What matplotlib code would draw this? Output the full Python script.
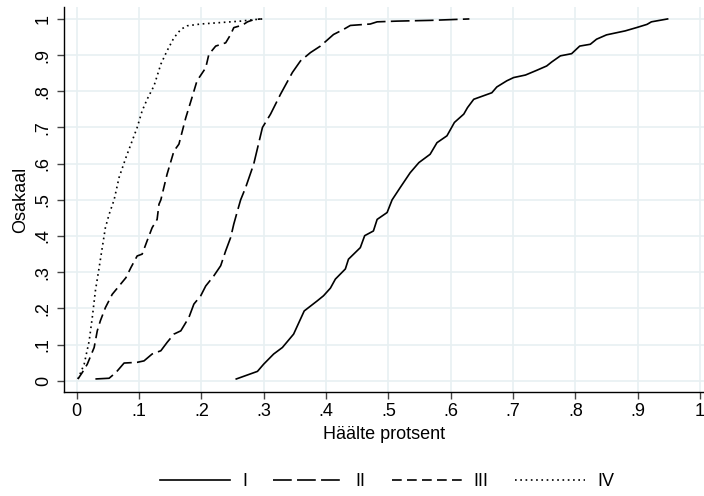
import numpy as np
import matplotlib
matplotlib.use("Agg")
import matplotlib.pyplot as plt

plt.rcParams['font.family'] = ['Liberation Sans', 'DejaVu Sans']
plt.rcParams['lines.scale_dashes'] = False

# data (vote share, cumulative share)
x_I = [0.256, 0.29, 0.30, 0.316, 0.33, 0.348, 0.365, 0.386, 0.396, 0.407, 0.415, 0.431,
       0.436, 0.455, 0.462, 0.476, 0.482, 0.498, 0.506, 0.519, 0.535, 0.549, 0.567, 0.578,
       0.594, 0.606, 0.621, 0.627, 0.637, 0.666, 0.674, 0.69, 0.701, 0.72, 0.738, 0.754,
       0.762, 0.776, 0.794, 0.807, 0.824, 0.834, 0.85, 0.88, 0.898, 0.915, 0.922, 0.948]
y_I = [0.005, 0.026, 0.046, 0.074, 0.092, 0.129, 0.193, 0.221, 0.235, 0.256, 0.281, 0.309,
       0.336, 0.368, 0.401, 0.414, 0.446, 0.465, 0.5, 0.534, 0.575, 0.603, 0.626, 0.658,
       0.677, 0.714, 0.737, 0.755, 0.778, 0.796, 0.812, 0.829, 0.838, 0.845, 0.858, 0.87,
       0.881, 0.898, 0.904, 0.925, 0.93, 0.944, 0.956, 0.967, 0.976, 0.985, 0.992, 1.0]

x_II = [0.03, 0.052, 0.063, 0.076, 0.097, 0.108, 0.121, 0.135, 0.145, 0.156, 0.167, 0.18,
        0.188, 0.199, 0.207, 0.22, 0.231, 0.239, 0.247, 0.252, 0.258, 0.263, 0.271, 0.284,
        0.298, 0.311, 0.327, 0.346, 0.359, 0.375, 0.391, 0.412, 0.428, 0.439, 0.471, 0.482,
        0.514, 0.567, 0.63]
y_II = [0.005, 0.007, 0.023, 0.049, 0.051, 0.055, 0.074, 0.083, 0.106, 0.129, 0.138, 0.175,
        0.212, 0.235, 0.262, 0.29, 0.318, 0.359, 0.396, 0.433, 0.47, 0.5, 0.534, 0.599,
        0.7, 0.737, 0.792, 0.852, 0.884, 0.907, 0.925, 0.957, 0.971, 0.982, 0.986, 0.992,
        0.994, 0.996, 1.0]

x_III = [0.002, 0.009, 0.017, 0.028, 0.033, 0.038, 0.046, 0.057, 0.068, 0.079, 0.087, 0.097,
         0.105, 0.113, 0.121, 0.129, 0.132, 0.135, 0.145, 0.156, 0.164, 0.175, 0.185, 0.193,
         0.207, 0.212, 0.223, 0.239, 0.247, 0.252, 0.266, 0.274, 0.284, 0.295]
y_III = [0.005, 0.023, 0.046, 0.092, 0.138, 0.166, 0.202, 0.239, 0.262, 0.285, 0.313, 0.345,
         0.35, 0.387, 0.423, 0.446, 0.488, 0.5, 0.571, 0.635, 0.654, 0.727, 0.783, 0.829,
         0.865, 0.902, 0.925, 0.934, 0.957, 0.976, 0.983, 0.992, 0.998, 1.0]

x_IV = [0.002, 0.012, 0.02, 0.025, 0.03, 0.036, 0.041, 0.046, 0.052, 0.06, 0.068, 0.079,
        0.089, 0.097, 0.105, 0.113, 0.124, 0.135, 0.145, 0.156, 0.167, 0.177, 0.199, 0.231,
        0.263, 0.284, 0.298]
y_IV = [0.005, 0.046, 0.11, 0.175, 0.249, 0.313, 0.368, 0.423, 0.46, 0.5, 0.562, 0.617,
        0.663, 0.7, 0.746, 0.778, 0.815, 0.875, 0.912, 0.948, 0.971, 0.981, 0.986, 0.99,
        0.994, 0.998, 1.0]

labels = ['I', 'II', 'III', 'IV']
ticks = np.round(np.arange(0, 1.01, 0.1), 1)
tick_labels = ['0', '.1', '.2', '.3', '.4', '.5', '.6', '.7', '.8', '.9', '1']

fig = plt.figure(figsize=(7.04, 4.96), dpi=100)
ax = fig.add_axes([64.3/704, 104/496, (704-64.3)/704, 385/496])

fs = 13
lw = 1.2
ax.plot(x_I, y_I, color='black', lw=lw, label=labels[0])
ax.plot(x_II, y_II, color='black', lw=lw, dashes=(13.5, 3.8), label=labels[1])
ax.plot(x_III, y_III, color='black', lw=lw, dashes=(7.0, 3.8), label=labels[2])
ax.plot(x_IV, y_IV, color='black', lw=lw, dashes=(1.2, 2.6), label=labels[3])

ax.set_xlim(-0.0199, 1.0064)
ax.set_ylim(-0.031, 1.033)
ax.set_xticks(ticks)
ax.set_xticklabels(tick_labels, fontsize=fs)
ax.set_yticks(ticks)
ax.set_yticklabels(tick_labels, fontsize=fs, rotation=90, va='center')
ax.tick_params(length=5, width=1, color='#444444')
ax.tick_params(axis='x', pad=3)
ax.tick_params(axis='y', pad=4)
ax.grid(True, color='#e8f0f2', lw=1.2)
ax.set_axisbelow(True)
for s in ['top', 'right']:
    ax.spines[s].set_visible(False)
for s in ['left', 'bottom']:
    ax.spines[s].set_linewidth(1.0)

ax.set_xlabel('Häälte protsent', fontsize=fs, labelpad=4)
ax.set_ylabel('Osakaal', fontsize=fs, labelpad=4)

fig.legend(loc='center', bbox_to_anchor=(387/704, (496-482)/496), ncol=4, frameon=False,
           fontsize=fs, handlelength=3.9, handletextpad=0.66, columnspacing=1.44)

fig.savefig('out.png', dpi=100)
